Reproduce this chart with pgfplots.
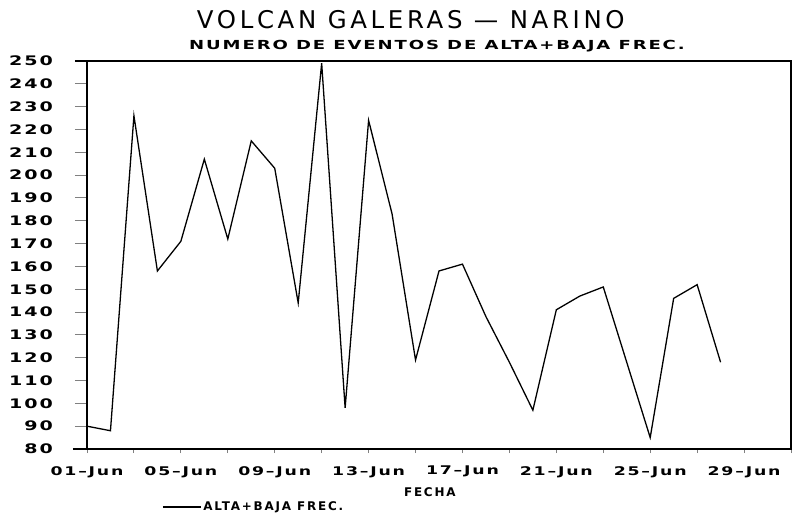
\documentclass[border=0pt]{standalone}
\usepackage{fontspec}
\usepackage{pgfplots}
\pgfplotsset{compat=1.18}

% plotter-like lettering: wide, spaced capitals
\newfontfamily\pfw[FakeStretch=1.45,LetterSpace=15]{DejaVu Sans}
\newfontfamily\pfn[LetterSpace=15]{DejaVu Sans}

\pgfplotstableread{
dia eventos
1  90
2  88
3  226
4  158
5  171
6  207
7  172
8  215
9  203
10 144
11 249
12 98
13 224
14 183
15 119
16 158
17 161
18 138
19 118
20 97
21 141
22 147
23 151
24 118
25 85
26 146
27 152
28 118
}\eventos

\begin{document}
\begin{tikzpicture}
\begin{axis}[
  at={(0,0)}, anchor=south west,
  scale only axis, width=704bp, height=388bp,
  xmin=1, xmax=31, ymin=80, ymax=250,
  axis line style={line width=1.2pt},
  tick align=outside,
  xtick pos=bottom, ytick pos=left,
  major tick length=12bp,
  x tick style={line width=0.9pt, /pgfplots/major tick length=4bp},
  y tick style={line width=0.9pt},
  xtick={1,3,...,31},
  xticklabels={01–Jun,,05–Jun,,09–Jun,,13–Jun,,17–Jun,,21–Jun,,25–Jun,,29–Jun,},
  ytick={80,90,...,250},
  /pgf/number format/assume math mode=true,
  yticklabel style={font=\pfw\bfseries\fontsize{13.2}{15}\selectfont, anchor=east, inner sep=0pt, xshift=-22bp},
  xticklabel style={font=\pfw\bfseries\fontsize{12}{14}\selectfont, anchor=north, inner sep=0pt, yshift=-5bp},
  xlabel={FECHA},
  x label style={font=\pfn\bfseries\fontsize{12}{14}\selectfont, at={(axis description cs:0.487,-0.111)}, anchor=center, inner sep=0pt},
  title={VOLCAN GALERAS — NARINO},
  title style={font=\pfn\fontsize{24.5}{27}\selectfont, at={(axis description cs:0.46,1.091)}, anchor=center, inner sep=0pt, yshift=0pt},
  legend style={draw=none, fill=none, at={(axis description cs:0.1065,-0.1495)}, anchor=west,
    inner sep=0pt, font=\pfn\bfseries\fontsize{12}{14}\selectfont},
  legend cell align=left,
  legend image code/.code={\draw[line width=1.2pt] (0bp,0bp) -- (38bp,0bp);},
]
\addplot[black, line width=1.3pt, line join=miter] table[x=dia, y=eventos] {\eventos};
\addlegendentry{ALTA+BAJA FREC.}
\end{axis}
% frame edges run a little past the value axis on the left
\draw[line width=1.2pt] (-12bp,388bp) -- (0bp,388bp);
\draw[line width=1.2pt] (-14bp,0bp) -- (0bp,0bp);
\node[font=\pfw\bfseries\fontsize{12.5}{14}\selectfont, inner sep=0pt] at (350bp,403bp) {NUMERO DE EVENTOS DE ALTA+BAJA FREC.};
\pgfresetboundingbox
\useasboundingbox (-87bp,-69bp) rectangle (706bp,449bp);
\end{tikzpicture}
\end{document}
